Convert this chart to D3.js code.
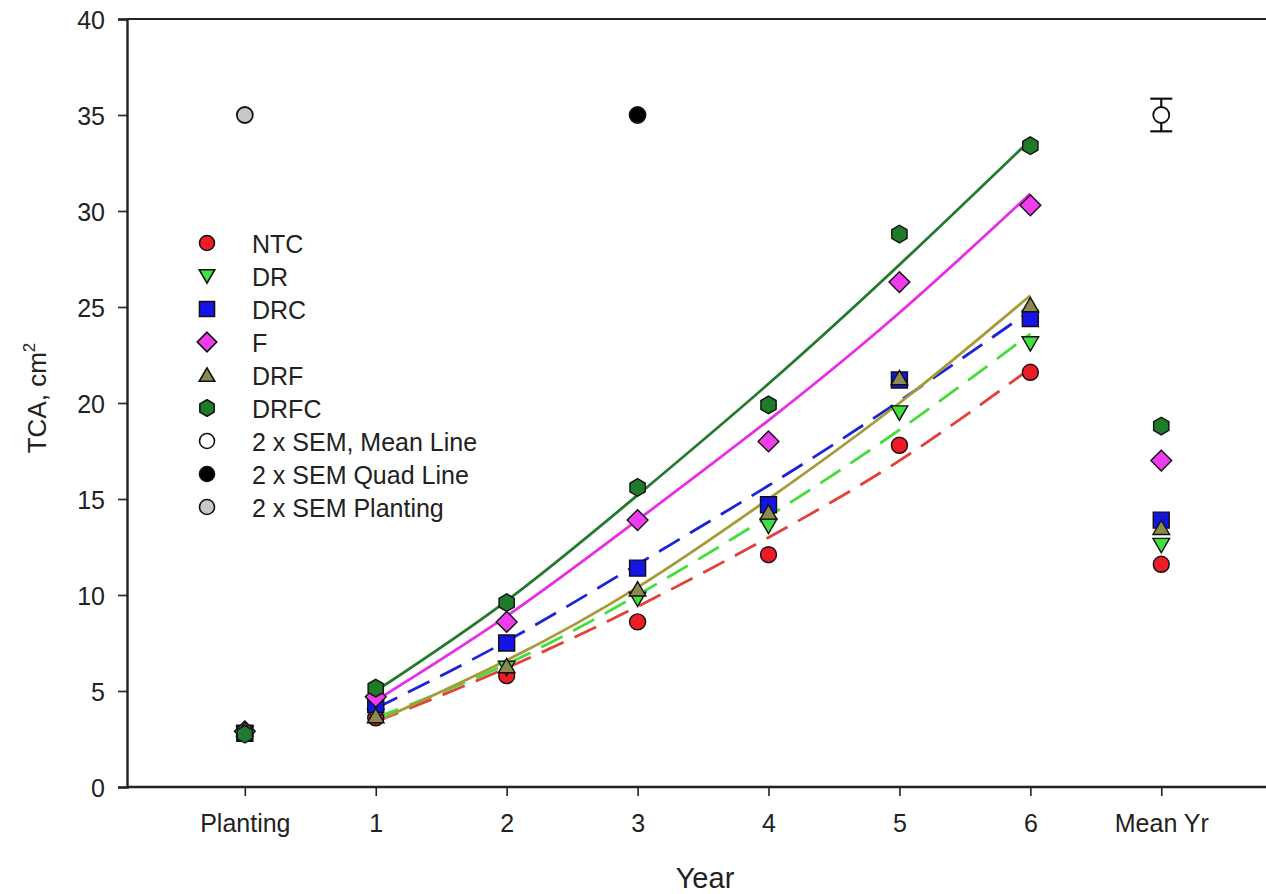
<!DOCTYPE html>
<html><head><meta charset="utf-8">
<script src="https://cdn.jsdelivr.net/npm/d3@7"></script>
<style>
html,body{margin:0;padding:0;background:#fff;}
svg{display:block;font-family:"Liberation Sans",Arial,sans-serif;}
</style></head>
<body>
<script>
// ---------- data ----------
const xLabels = ["Planting","1","2","3","4","5","6","Mean Yr"];
const xPos = [0,1,2,3,4,5,6,7];
const fitYears = [1,2,3,4,5,6];
const yTicks = [0,5,10,15,20,25,30,35,40];

const seriesNames = ["NTC","DR","DRC","F","DRF","DRFC"];
// values at Planting, 1..6, Mean Yr
const ntcVals  = [2.8, 3.6, 5.8, 8.6, 12.1, 17.8, 21.6, 11.6];
const drVals   = [2.8, 3.7, 6.2, 9.8, 13.6, 19.5, 23.1, 12.6];
const drcVals  = [2.8, 4.3, 7.5, 11.4, 14.7, 21.2, 24.4, 13.9];
const fVals    = [2.9, 4.7, 8.6, 13.9, 18.0, 26.3, 30.3, 17.0];
const drfVals  = [3.0, 3.7, 6.3, 10.3, 14.3, 21.3, 25.1, 13.5];
const drfcVals = [2.75, 5.15, 9.6, 15.6, 19.9, 28.8, 33.4, 18.8];
// fitted curves (years 1..6)
const ntcFit  = [3.4, 6.2, 9.4, 13.0, 17.0, 21.8];
const drFit   = [3.6, 6.4, 10.0, 14.1, 18.6, 23.6];
const drcFit  = [4.1, 7.6, 11.6, 15.7, 20.1, 24.8];
const fFit    = [4.5, 8.9, 13.9, 19.1, 24.7, 30.9];
const drfFit  = [3.4, 6.6, 10.4, 15.0, 20.0, 25.6];
const drfcFit = [5.0, 9.7, 15.2, 21.0, 27.2, 33.7];

// 2 x SEM reference markers
const semNames = ["2 x SEM, Mean Line","2 x SEM Quad Line","2 x SEM Planting"];
const semX = [7, 3, 0];
const semY = [35, 35, 35];
const semErr = [0.85, 0, 0];

// ---------- styles ----------
const styles = [
  {fill:"#ee1c24", line:"#e2403a", shape:"circle", dash:"24,12"},
  {fill:"#3fe03f", line:"#44dd3a", shape:"tridown", dash:"24,12"},
  {fill:"#1414e6", line:"#1c24d6", shape:"square", dash:"24,12"},
  {fill:"#ee3cee", line:"#e62ee6", shape:"diamond", dash:null},
  {fill:"#8c8a4e", line:"#a59c38", shape:"triup", dash:null},
  {fill:"#1f7a2a", line:"#237a2e", shape:"hexagon", dash:null}
];
const semFill = ["#ffffff","#000000","#c8c8c8"];

const vals = [ntcVals, drVals, drcVals, fVals, drfVals, drfcVals];
const fits = [ntcFit, drFit, drcFit, fFit, drfFit, drfcFit];

const W = 1266, H = 894;
const svg = d3.select("body").append("svg").attr("width", W).attr("height", H);

const m = {left:127, top:19, bottom:787};
const x = d3.scaleLinear().domain([-0.9, 7.8]).range([m.left, 1266]);
const y = d3.scaleLinear().domain([0, 40]).range([m.bottom, m.top]);

function shapePath(shape, r) {
  const p = d3.path();
  if (shape === "circle") { p.arc(0,0,r,0,2*Math.PI); p.closePath(); return p.toString(); }
  let pts;
  if (shape === "square") { const s=r*1.0; pts=[[-s,-s],[s,-s],[s,s],[-s,s]]; }
  else if (shape === "diamond") { const s=r*1.3; pts=[[0,-s],[s,0],[0,s],[-s,0]]; }
  else if (shape === "triup") { const s=r*1.2; pts=[0,1,2].map(i=>{const a=-Math.PI/2+i*2*Math.PI/3; return [s*Math.cos(a), s*Math.sin(a)+s*0.2];}); }
  else if (shape === "tridown") { const s=r*1.2; pts=[0,1,2].map(i=>{const a=Math.PI/2+i*2*Math.PI/3; return [s*Math.cos(a), s*Math.sin(a)-s*0.2];}); }
  else if (shape === "hexagon") { const s=r*1.1; pts=d3.range(6).map(i=>{const a=-Math.PI/2+i*Math.PI/3; return [s*Math.cos(a), s*Math.sin(a)];}); }
  p.moveTo(pts[0][0],pts[0][1]); pts.slice(1).forEach(q=>p.lineTo(q[0],q[1])); p.closePath();
  return p.toString();
}

// frame (top line extends off the right edge)
svg.append("line").attr("x1", m.left).attr("x2", W+5).attr("y1", m.top).attr("y2", m.top)
  .attr("stroke","#222").attr("stroke-width",2.2);

// axes
const yAxis = svg.append("g").attr("transform",`translate(${m.left},0)`)
  .call(d3.axisLeft(y).tickValues(yTicks).tickSize(9).tickPadding(13));
const xAxis = svg.append("g").attr("transform",`translate(0,${m.bottom})`)
  .call(d3.axisBottom(x).tickValues(xPos).tickFormat((d,i)=>xLabels[i]).tickSize(9).tickPadding(18));
[yAxis, xAxis].forEach(g=>{
  g.select(".domain").attr("stroke","#222").attr("stroke-width",2.4);
  g.selectAll(".tick line").attr("stroke","#222").attr("stroke-width",1.6);
  g.selectAll(".tick text").attr("fill","#222").style("font-size","25px").style("font-family","'Liberation Sans',Arial,sans-serif");
});
xAxis.select(".domain").attr("d", `M${m.left},0H${W+5}`);
yAxis.selectAll(".tick text").attr("dy","0.36em");

// axis titles
svg.append("text").attr("x", 705).attr("y", 888).attr("text-anchor","middle")
  .style("font-size","29px").attr("fill","#222").text("Year");
const yt = svg.append("text").attr("transform","translate(46,398) rotate(-90)")
  .attr("text-anchor","middle").style("font-size","26px").attr("fill","#222");
yt.append("tspan").text("TCA, cm");
yt.append("tspan").attr("dy","-11").style("font-size","17px").text("2");

// fitted lines
const line = d3.line().x((d,i)=>x(fitYears[i])).y(d=>y(d)).curve(d3.curveNatural);
fits.forEach((f,k)=>{
  svg.append("path").attr("d", line(f)).attr("fill","none")
    .attr("stroke", styles[k].line).attr("stroke-width", 2.8)
    .attr("stroke-dasharray", styles[k].dash);
});

// data points
vals.forEach((v,k)=>{
  svg.append("g").selectAll("path").data(v).join("path")
    .attr("transform",(d,i)=>`translate(${x(xPos[i])},${y(d)})`)
    .attr("d", shapePath(styles[k].shape, 8))
    .attr("fill", styles[k].fill).attr("stroke","#111").attr("stroke-width",1.4);
});

// SEM markers
semX.forEach((sx,i)=>{
  const cx = x(sx), cy = y(semY[i]);
  if (semErr[i] > 0) {
    const g = svg.append("g").attr("stroke","#111").attr("stroke-width",2.2);
    g.append("line").attr("x1",cx).attr("x2",cx).attr("y1",y(semY[i]-semErr[i])).attr("y2",y(semY[i]+semErr[i]));
    [semY[i]-semErr[i], semY[i]+semErr[i]].forEach(v=>g.append("line")
      .attr("x1",cx-11).attr("x2",cx+11).attr("y1",y(v)).attr("y2",y(v)));
  }
  svg.append("circle").attr("cx",cx).attr("cy",cy).attr("r",8)
    .attr("fill",semFill[i]).attr("stroke","#111").attr("stroke-width",1.8);
});

// legend
const legItems = seriesNames.map((n,k)=>({name:n, shape:styles[k].shape, fill:styles[k].fill}))
  .concat(semNames.map((n,i)=>({name:n, shape:"circle", fill:semFill[i]})));
const leg = svg.append("g").attr("transform","translate(207,243)");
legItems.forEach((it,i)=>{
  const g = leg.append("g").attr("transform",`translate(0,${i*33})`);
  g.append("path").attr("d", shapePath(it.shape, 7.5)).attr("fill", it.fill)
    .attr("stroke","#111").attr("stroke-width",1.6);
  g.append("text").attr("x",45).attr("y",1).attr("dy","0.36em")
    .style("font-size","25px").attr("fill","#222").text(it.name);
});
</script>
</body></html>
